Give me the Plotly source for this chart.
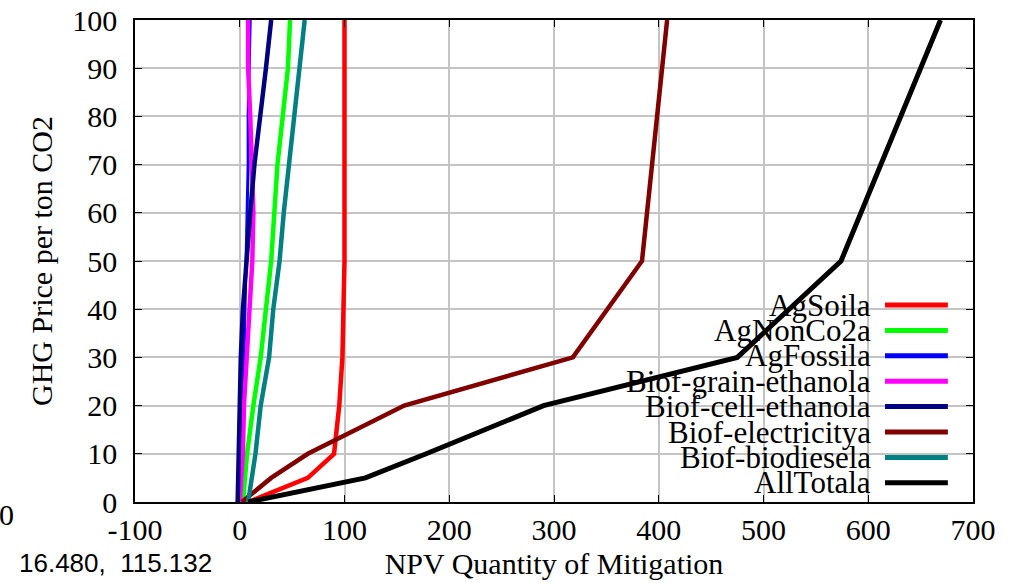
import plotly.graph_objects as go

# ---- data ----
ag_soil_x = [8, 65, 90, 95, 98, 100, 100]
ag_soil_y = [0, 5, 10, 20, 30, 50, 100]

ag_nonco2_x = [3, 7, 13, 20, 25, 30, 33, 36, 41, 46, 48]
ag_nonco2_y = [0, 10, 20, 30, 40, 50, 60, 70, 80, 90, 100]

ag_fossil_x = [0, 2, 3, 4, 5, 6, 7, 8, 8, 9, 10]
ag_fossil_y = [0, 10, 20, 30, 40, 50, 60, 70, 80, 90, 100]

grain_eth_x = [0, 3, 4, 7, 10, 12, 13, 12, 10, 8, 8]
grain_eth_y = [0, 10, 20, 30, 40, 50, 60, 70, 80, 90, 100]

cell_eth_x = [-2, -1, -1, 1, 3, 6, 10, 14, 20, 25, 30]
cell_eth_y = [0, 10, 20, 30, 40, 50, 60, 70, 80, 90, 100]

electricity_x = [2, 30, 65, 157, 318, 384, 408]
electricity_y = [0, 5, 10, 20, 30, 50, 100]

biodiesel_x = [8, 15, 20, 28, 32, 38, 42, 47, 52, 57, 62]
biodiesel_y = [0, 10, 20, 30, 40, 50, 60, 70, 80, 90, 100]

all_total_x = [8, 120, 178, 290, 475, 574, 669]
all_total_y = [0, 5, 10, 20, 30, 50, 100]

series_names = ["AgSoila", "AgNonCo2a", "AgFossila", "Biof-grain-ethanola",
                "Biof-cell-ethanola", "Biof-electricitya", "Biof-biodiesela", "AllTotala"]
series_colors = ["#ff0000", "#00ff00", "#0000ff", "#ff00ff",
                 "#000080", "#800000", "#008080", "#000000"]
series_x = [ag_soil_x, ag_nonco2_x, ag_fossil_x, grain_eth_x,
            cell_eth_x, electricity_x, biodiesel_x, all_total_x]
series_y = [ag_soil_y, ag_nonco2_y, ag_fossil_y, grain_eth_y,
            cell_eth_y, electricity_y, biodiesel_y, all_total_y]
series_widths = [4.5, 4.5, 3, 4.5, 4.5, 4.5, 4.5, 5]

x_ticks = [-100, 0, 100, 200, 300, 400, 500, 600, 700]
x_tick_labels = ["-100", "0", "100", "200", "300", "400", "500", "600", "700"]
y_ticks = [0, 10, 20, 30, 40, 50, 60, 70, 80, 90, 100]

SERIF = "Liberation Serif"
FS = 30

fig = go.Figure()
for name, col, xs, ys, w in zip(series_names, series_colors, series_x, series_y, series_widths):
    fig.add_trace(go.Scatter(x=xs, y=ys, mode="lines", name=name,
                             line=dict(color=col, width=w), showlegend=False))

# legend box (white area that hides the grid, as in the reference)
shapes = [dict(type="rect", xref="paper", yref="paper", x0=0.575, x1=1.0, y0=0.0, y1=0.4336,
               fillcolor="white", line=dict(width=0), layer="between")]
annotations = []
top_y = 0.4087
step = 0.0527
for i, (name, col) in enumerate(zip(series_names, series_colors)):
    yy = top_y - i * step
    annotations.append(dict(xref="paper", yref="paper", x=0.8807, y=yy, text=name,
                            showarrow=False, xanchor="right", yanchor="middle",
                            font=dict(family=SERIF, size=31, color="black")))
    shapes.append(dict(type="line", xref="paper", yref="paper", x0=0.895, x1=0.970,
                       y0=yy, y1=yy, line=dict(color=col, width=5), layer="above"))

# stray texts from the original screenshot
annotations.append(dict(xref="paper", yref="paper", x=-0.1408, y=-0.1266,
                        text="16.480,  115.132", showarrow=False, xanchor="left",
                        yanchor="middle", font=dict(family="Liberation Sans", size=26, color="black")))
annotations.append(dict(xref="paper", yref="paper", x=-0.1539, y=-0.025, text="0",
                        showarrow=False, xanchor="center", yanchor="middle",
                        font=dict(family=SERIF, size=FS, color="black")))

fig.update_layout(
    width=1019, height=583,
    margin=dict(l=135, r=46, t=20, b=81, autoexpand=False),
    paper_bgcolor="white", plot_bgcolor="white",
    font=dict(family=SERIF, size=FS, color="black"),
    shapes=shapes, annotations=annotations, showlegend=False,
)
fig.update_xaxes(range=[-100, 700], tickvals=x_ticks, ticktext=x_tick_labels,
                 ticks="inside", ticklen=7,
                 tickcolor="black", mirror="ticks", showline=True, linecolor="black",
                 linewidth=1.5, showgrid=True, gridcolor="#c4c4c4", gridwidth=2,
                 zeroline=False, automargin=False, ticklabeloverflow="allow",
                 tickfont=dict(family=SERIF, size=FS, color="black"),
                 title=dict(text="NPV Quantity of Mitigation", standoff=8,
                            font=dict(family=SERIF, size=FS, color="black")))
fig.update_yaxes(range=[0, 100], tickvals=y_ticks, ticks="inside", ticklen=7,
                 tickcolor="black", mirror="ticks", showline=True, linecolor="black",
                 linewidth=1.5, showgrid=True, gridcolor="#c4c4c4", gridwidth=2,
                 zeroline=False, automargin=False, ticklabelstandoff=10,
                 ticklabeloverflow="allow",
                 tickfont=dict(family=SERIF, size=FS, color="black"),
                 title=dict(text="GHG Price per ton CO2", standoff=11,
                            font=dict(family=SERIF, size=FS, color="black")))

# remove the default 8px body margin of the page so the figure fills the window
fig.write_html("out.html", config={"displayModeBar": False},
               post_script="document.body.style.margin='0';")
